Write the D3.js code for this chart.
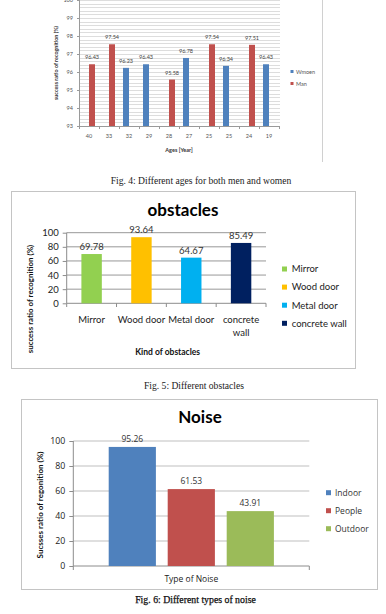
<!DOCTYPE html>
<html>
<head>
<meta charset="utf-8">
<script src="https://cdnjs.cloudflare.com/ajax/libs/d3/7.8.5/d3.min.js"></script>
<style>
  body { margin: 0; background: #fff; }
  svg { display: block; }
  .cap { font-family: 'Liberation Serif', 'Times New Roman', serif; fill: #222; }
  .cal { font-family: Lato, 'Open Sans', sans-serif; }
  .osn { font-family: 'Open Sans', 'DejaVu Sans', sans-serif; }
  .domain { display: none; }
</style>
</head>
<body>
<svg id="page" width="386" height="614"></svg>
<script>
// Fig. 4 : ages, two series (one bar per age)
var ages = ['40', '33', '32', '29', '28', '27', '25', '25', '24', '19'];
var womenRates = [null, null, 96.23, 96.43, null, 96.78, null, 96.34, null, 96.43];
var menRates = [96.43, 97.54, null, null, 95.58, null, 97.54, null, 97.51, null];
var ageSeries = ['Wmoen', 'Man'];
var ageColors = ['#4F81BD', '#C0504D'];
var ageTicks = [93, 94, 95, 96, 97, 98, 99, 100];

// Fig. 5 : obstacles
var obstacles = ['Mirror', 'Wood door', 'Metal door', 'concrete wall'];
var obstacleRates = [69.78, 93.64, 64.67, 85.49];
var obstacleColors = ['#92D050', '#FFC000', '#00B0F0', '#002060'];

// Fig. 6 : noise
var noiseTypes = ['Indoor', 'People', 'Outdoor'];
var noiseRates = [95.26, 61.53, 43.91];
var noiseColors = ['#4F81BD', '#C0504D', '#9BBB59'];

var pctTicks = [0, 20, 40, 60, 80, 100];

var svg = d3.select('#page');

function fig4(svg) {
    var g = svg.append('g').attr('class', 'cal');
    var x = d3.scaleBand().domain(d3.range(ages.length)).range([79, 279]);
    var x1 = d3.scaleBand().domain(ageSeries).range([4, 16]);
    var y = d3.scaleLinear().domain([93, 100]).range([126, 0]);

    // fine gridlines every 0.2
    var grid = d3.range(1, 36).map(function(i) { return 93 + i * 0.2; });
    g.selectAll('.grid').data(grid).enter().append('line')
        .attr('x1', 79).attr('x2', 280)
        .attr('y1', function(d) { return Math.round(y(d)) + 0.5; })
        .attr('y2', function(d) { return Math.round(y(d)) + 0.5; })
        .attr('stroke', '#d4d4d4').attr('stroke-width', 0.8);

    // y axis
    var ya = g.append('g').attr('transform', 'translate(79,0)')
        .call(d3.axisLeft(y).tickValues(ageTicks).tickFormat(d3.format('d')).tickSize(2).tickPadding(4));
    ya.selectAll('line').attr('stroke', '#9a9a9a');
    ya.selectAll('text').attr('font-size', '5.5px').attr('fill', '#555').attr('font-family', 'Lato');
    g.append('line').attr('x1', 79.5).attr('x2', 79.5).attr('y1', 0).attr('y2', 126).attr('stroke', '#9a9a9a');

    // x axis
    g.append('line').attr('x1', 79).attr('x2', 280).attr('y1', 126.5).attr('y2', 126.5).attr('stroke', '#9a9a9a');
    g.selectAll('.xt').data(d3.range(ages.length + 1)).enter().append('line')
        .attr('x1', function(i) { return 79.5 + i * x.step(); })
        .attr('x2', function(i) { return 79.5 + i * x.step(); })
        .attr('y1', 126).attr('y2', 129).attr('stroke', '#9a9a9a');
    g.selectAll('.xl').data(ages).enter().append('text')
        .attr('x', function(d, i) { return x(i) + x.bandwidth() / 2; })
        .attr('y', 138).attr('text-anchor', 'middle')
        .attr('font-size', '5.5px').attr('fill', '#555').text(function(d) { return d; });

    // bars
    var rows = [];
    ages.forEach(function(a, i) {
        if (womenRates[i] != null) rows.push({i: i, s: 0, v: womenRates[i]});
        if (menRates[i] != null) rows.push({i: i, s: 1, v: menRates[i]});
    });
    g.selectAll('.bar').data(rows).enter().append('rect')
        .attr('x', function(d) { return x(d.i) + x1(ageSeries[d.s]); })
        .attr('width', x1.bandwidth())
        .attr('y', function(d) { return y(d.v); })
        .attr('height', function(d) { return y(93) - y(d.v); })
        .attr('fill', function(d) { return ageColors[d.s]; });
    g.selectAll('.val').data(rows).enter().append('text')
        .attr('x', function(d) { return x(d.i) + x1(ageSeries[d.s]) + x1.bandwidth() / 2; })
        .attr('y', function(d) { return y(d.v) - 5; })
        .attr('text-anchor', 'middle').attr('font-size', '5.5px').attr('fill', '#444')
        .text(function(d) { return d.v.toFixed(2); });

    // titles
    g.append('text').attr('x', 179).attr('y', 152).attr('text-anchor', 'middle')
        .attr('font-size', '5.5px').attr('font-weight', 'bold').attr('fill', '#333').text('Ages [Year]');
    g.append('text').attr('transform', 'translate(58,63) rotate(-90)').attr('text-anchor', 'middle')
        .attr('font-size', '5.4px').attr('font-weight', 'bold').attr('fill', '#333')
        .text('success ratio of recognition (%)');

    // legend
    ageSeries.forEach(function(s, i) {
        g.append('rect').attr('x', 290.5).attr('y', 70 + i * 12).attr('width', 3).attr('height', 3).attr('fill', ageColors[i]);
        g.append('text').attr('x', 296).attr('y', 73.5 + i * 12).attr('font-size', '5.5px').attr('fill', '#555').text(s);
    });

    g.append('line').attr('x1', 322.5).attr('x2', 322.5).attr('y1', 0).attr('y2', 162).attr('stroke', '#d0d0d0');

    svg.append('text').attr('class', 'cap').attr('x', 201).attr('y', 184)
        .attr('text-anchor', 'middle').attr('font-size', '9.6px')
        .text('Fig. 4: Different ages for both men and women');
}

function fig5(svg) {
    var g = svg.append('g').attr('class', 'cal');
    g.append('rect').attr('x', 11.5).attr('y', 191.5).attr('width', 344).attr('height', 177)
        .attr('fill', 'none').attr('stroke', '#c4c4c4');

    var x = d3.scaleBand().domain(obstacles).range([66.7, 266]).paddingInner(0.59).paddingOuter(0.295);
    var y = d3.scaleLinear().domain([0, 100]).range([303.3, 232.7]);

    g.selectAll('.grid').data(pctTicks.slice(1)).enter().append('line')
        .attr('x1', 66.7).attr('x2', 266)
        .attr('y1', function(d) { return y(d); }).attr('y2', function(d) { return y(d); })
        .attr('stroke', '#8c8c8c').attr('stroke-width', 0.9);

    var ya = g.append('g').attr('transform', 'translate(66.7,0)')
        .call(d3.axisLeft(y).tickValues(pctTicks).tickSize(4).tickPadding(4));
    ya.selectAll('line').attr('stroke', '#8c8c8c');
    ya.selectAll('text').attr('font-size', '9.5px').attr('fill', '#222').attr('font-family', 'Lato');
    g.append('line').attr('x1', 66.7).attr('x2', 66.7).attr('y1', 232.7).attr('y2', 303.3).attr('stroke', '#8c8c8c');

    g.append('line').attr('x1', 66.7).attr('x2', 266).attr('y1', 303.3).attr('y2', 303.3).attr('stroke', '#8c8c8c');
    g.selectAll('.xt').data(d3.range(obstacles.length + 1)).enter().append('line')
        .attr('x1', function(i) { return 66.7 + i * x.step(); })
        .attr('x2', function(i) { return 66.7 + i * x.step(); })
        .attr('y1', 303.3).attr('y2', 307).attr('stroke', '#8c8c8c');

    g.selectAll('.bar').data(obstacleRates).enter().append('rect')
        .attr('x', function(d, i) { return x(obstacles[i]); })
        .attr('width', x.bandwidth())
        .attr('y', function(d) { return y(d); })
        .attr('height', function(d) { return y(0) - y(d); })
        .attr('fill', function(d, i) { return obstacleColors[i]; });
    g.selectAll('.val').data(obstacleRates).enter().append('text')
        .attr('x', function(d, i) { return x(obstacles[i]) + x.bandwidth() / 2; })
        .attr('y', function(d) { return y(d) - 4; })
        .attr('text-anchor', 'middle').attr('font-size', '9.5px').attr('fill', '#333')
        .text(function(d) { return d.toFixed(2); });

    // category labels, long ones wrap
    obstacles.forEach(function(o, i) {
        var lines = o.length > 10 ? o.split(' ') : [o];
        lines.forEach(function(l, k) {
            g.append('text').attr('x', x(o) + x.bandwidth() / 2).attr('y', 323.3 + k * 12.7)
                .attr('text-anchor', 'middle').attr('font-size', '9.5px').attr('fill', '#222').text(l);
        });
    });

    g.append('text').attr('x', 183).attr('y', 216).attr('text-anchor', 'middle')
        .attr('font-size', '17px').attr('font-weight', 'bold').attr('fill', '#000').text('obstacles');
    g.append('text').attr('x', 167.7).attr('y', 355).attr('text-anchor', 'middle')
        .attr('font-size', '8.5px').attr('font-weight', 'bold').attr('fill', '#111').text('Kind of obstacles');
    g.append('text').attr('transform', 'translate(33,299) rotate(-90)').attr('text-anchor', 'middle')
        .attr('font-size', '7.9px').attr('font-weight', 'bold').attr('fill', '#111')
        .text('success ratio of recognition (%)');

    obstacles.forEach(function(o, i) {
        g.append('rect').attr('x', 282).attr('y', 266.5 + i * 18.1).attr('width', 5).attr('height', 5).attr('fill', obstacleColors[i]);
        g.append('text').attr('x', 291.7).attr('y', 272.3 + i * 18.1).attr('font-size', '9.5px').attr('fill', '#222').text(o);
    });

    svg.append('text').attr('class', 'cap').attr('x', 194).attr('y', 389)
        .attr('text-anchor', 'middle').attr('font-size', '9.6px')
        .text('Fig. 5: Different obstacles');
}

function fig6(svg) {
    var g = svg.append('g').attr('class', 'osn');
    g.append('rect').attr('x', 21.5).attr('y', 399.5).attr('width', 356).attr('height', 190)
        .attr('fill', 'none').attr('stroke', '#c4c4c4');

    var x0 = d3.scaleBand().domain(['Type of Noise']).range([73.3, 309.3]);
    var x1 = d3.scaleBand().domain(noiseTypes).range([0, x0.bandwidth()]).paddingInner(0.2).paddingOuter(0.6);
    var y = d3.scaleLinear().domain([0, 100]).range([566, 441]);

    g.selectAll('.grid').data(pctTicks.slice(1)).enter().append('line')
        .attr('x1', 73.3).attr('x2', 309.3)
        .attr('y1', function(d) { return y(d); }).attr('y2', function(d) { return y(d); })
        .attr('stroke', '#b8b8b8').attr('stroke-width', 0.9);

    var ya = g.append('g').attr('transform', 'translate(73.3,0)')
        .call(d3.axisLeft(y).tickValues(pctTicks).tickSize(4).tickPadding(4));
    ya.selectAll('line').attr('stroke', '#8c8c8c');
    ya.selectAll('text').attr('font-size', '8.8px').attr('fill', '#222').attr('font-family', 'Open Sans');
    g.append('line').attr('x1', 73.3).attr('x2', 73.3).attr('y1', 441).attr('y2', 566).attr('stroke', '#8c8c8c');

    g.append('line').attr('x1', 73.3).attr('x2', 309.3).attr('y1', 566).attr('y2', 566).attr('stroke', '#8c8c8c');
    [73.3, 309.3].forEach(function(px) {
        g.append('line').attr('x1', px).attr('x2', px).attr('y1', 566).attr('y2', 570).attr('stroke', '#8c8c8c');
    });

    g.selectAll('.bar').data(noiseRates).enter().append('rect')
        .attr('x', function(d, i) { return x0('Type of Noise') + x1(noiseTypes[i]); })
        .attr('width', x1.bandwidth())
        .attr('y', function(d) { return y(d); })
        .attr('height', function(d) { return y(0) - y(d); })
        .attr('fill', function(d, i) { return noiseColors[i]; });
    g.selectAll('.val').data(noiseRates).enter().append('text')
        .attr('x', function(d, i) { return x0('Type of Noise') + x1(noiseTypes[i]) + x1.bandwidth() / 2; })
        .attr('y', function(d) { return y(d) - 5; })
        .attr('text-anchor', 'middle').attr('font-size', '8.5px').attr('fill', '#333')
        .text(function(d) { return d.toFixed(2); });

    g.append('text').attr('x', x0('Type of Noise') + x0.bandwidth() / 2).attr('y', 582)
        .attr('text-anchor', 'middle').attr('font-size', '8.5px').attr('fill', '#222').text('Type of Noise');

    g.append('text').attr('class', 'cal').attr('x', 200).attr('y', 423).attr('text-anchor', 'middle')
        .attr('font-size', '17px').attr('font-weight', 'bold').attr('fill', '#000').text('Noise');
    g.append('text').attr('class', 'cal').attr('transform', 'translate(43,505) rotate(-90)').attr('text-anchor', 'middle')
        .attr('font-size', '8px').attr('font-weight', 'bold').attr('fill', '#111')
        .text('Sucsses ratio of regonition (%)');

    noiseTypes.forEach(function(n, i) {
        g.append('rect').attr('x', 326).attr('y', 490.2 + i * 18).attr('width', 5).attr('height', 5).attr('fill', noiseColors[i]);
        g.append('text').attr('x', 335).attr('y', 495.8 + i * 18).attr('font-size', '8.5px').attr('fill', '#333').text(n);
    });

    svg.append('text').attr('class', 'cap').attr('x', 195.5).attr('y', 603)
        .attr('text-anchor', 'middle').attr('font-size', '9.8px').attr('fill', '#000')
        .attr('stroke', '#000').attr('stroke-width', 0.25)
        .text('Fig. 6: Different types of noise');
}

fig4(svg);
fig5(svg);
fig6(svg);
</script>
</body>
</html>
